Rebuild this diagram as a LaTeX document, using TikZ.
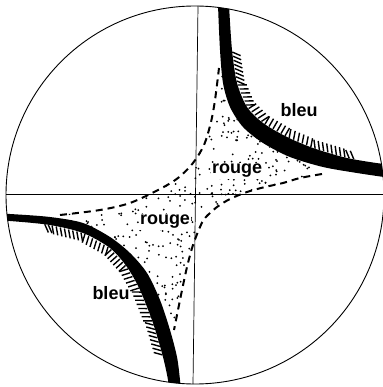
\documentclass[tikz,border=0pt]{standalone}
\usepackage{fontspec}
\setsansfont{Liberation Sans}
\usepackage{tikz}
\usetikzlibrary{calc}
\tikzset{
    contour/.style={draw=black, line width=0.9pt},
    axe/.style={draw=black, line width=0.7pt},
    bande/.style={fill=black},
    frontiere/.style={draw=black, line width=2pt, dash pattern=on 7pt off 5pt},
    grain/.style={fill=black},
    hachure/.style={draw=black, line width=1.4pt},
    couleur/.style={font=\sffamily\bfseries\fontsize{18}{18}\selectfont, inner sep=1pt}
}

\begin{document}
\begin{tikzpicture}[x=1pt, y=-1pt]
    \useasboundingbox (0,0) rectangle (382,387);
    \coordinate (O) at (195,195);
    \coordinate (W) at (6,194.5);
    \coordinate (E) at (384,194.5);
    \coordinate (N) at (198,6);
    \coordinate (S) at (193,384);

    % dots
    \begin{scope}
        \clip plot[smooth] coordinates {(60,215) (100,210) (130,203) (160,189) (178,178) (193,163) (204,145) (211,122) (215,100) (219,68)}
            -- plot[smooth] coordinates {(221,68) (223,83) (230,107) (243,127) (263,143) (290,157) (323,167)}
            -- plot[smooth] coordinates {(322,174) (300,178) (283,183) (265,187) (247,192) (230,199) (217,207) (205,218) (200,227) (193,245) (187,267) (181,295) (177,315) (174,330)}
            -- plot[smooth] coordinates {(170,330) (160,300) (147,273) (130,253) (110,237) (83,223) (55,218)}
            -- cycle;
        \pgfmathsetseed{4711}
        \foreach \n in {1,...,1300} {
            \fill[grain] ({55+280*rnd},{60+275*rnd}) circle (1);
        }
    \end{scope}

    \draw[frontiere] plot[smooth] coordinates {(60,215) (100,210) (130,203) (160,189) (178,178) (193,163) (204,145) (211,122) (215,100) (219,68)};
    \draw[frontiere] plot[smooth] coordinates {(322,174) (300,178) (283,183) (265,187) (247,192) (230,199) (217,207) (205,218) (200,227) (193,245) (187,267) (181,295) (177,315) (174,330)};

    % black bands
    \begin{scope}
        \clip (O) circle (189);
        \fill[bande] plot[smooth] coordinates {(218,-5) (218,5) (220,50) (223,83) (230,107) (243,127) (263,143) (290,157) (323,167) (357,173) (384,177) (392,178)}
            -- plot[smooth] coordinates {(392,163) (384,164) (347,158) (313,148) (287,137) (263,123) (247,107) (237,83) (232,50) (229,5) (229,-5)} -- cycle;
        \fill[bande] plot[smooth] coordinates {(0,214) (10,214) (50,217) (83,223) (110,237) (130,253) (147,273) (160,300) (170,330) (177,357) (180,380) (181,392)}
            -- plot[smooth] coordinates {(169,392) (168,380) (163,357) (153,323) (140,290) (127,267) (110,248) (83,233) (50,225) (10,221) (0,221)} -- cycle;
    \end{scope}

    % hatching on the outer side of the bands
    \foreach \ax/\ay/\bx/\by/\nb/\off in {232/50/237/83/8/-32, 237/83/247/107/6/-22, 247/107/263/123/5/-12, 263/123/287/137/6/0,
        287/137/313/148/6/12, 313/148/347/158/8/24, 347/158/356/159.5/2/32,
        163/357/153/323/8/-32, 153/323/140/290/8/-22, 140/290/127/267/6/-12, 127/267/110/248/6/0,
        110/248/83/233/7/12, 83/233/50/225/8/24, 50/225/43/224/2/32} {
        \pgfmathsetmacro\tang{atan2(\ay-\by,\bx-\ax)+90+\off}
        \foreach \k in {1,...,\nb} {
            \pgfmathsetmacro\t{(\k-0.5)/\nb}
            \draw[hachure] ($(\ax,\ay)!\t!(\bx,\by)$) -- ++(\tang:9pt);
        }
    }

    \draw[axe] (W) -- (E);
    \draw[axe] (N) -- (S);
    \draw[contour] (O) circle (189);

    \node[couleur] (bleuhaut) at (299,110) {bleu};
    \node[couleur] (bleubas) at (111,293) {bleu};
    \node[couleur, fill=white] (rougehaut) at (237,171) {rouge};
    \node[couleur, fill=white] (rougebas) at (165,222) {rouge};
\end{tikzpicture}
\end{document}
